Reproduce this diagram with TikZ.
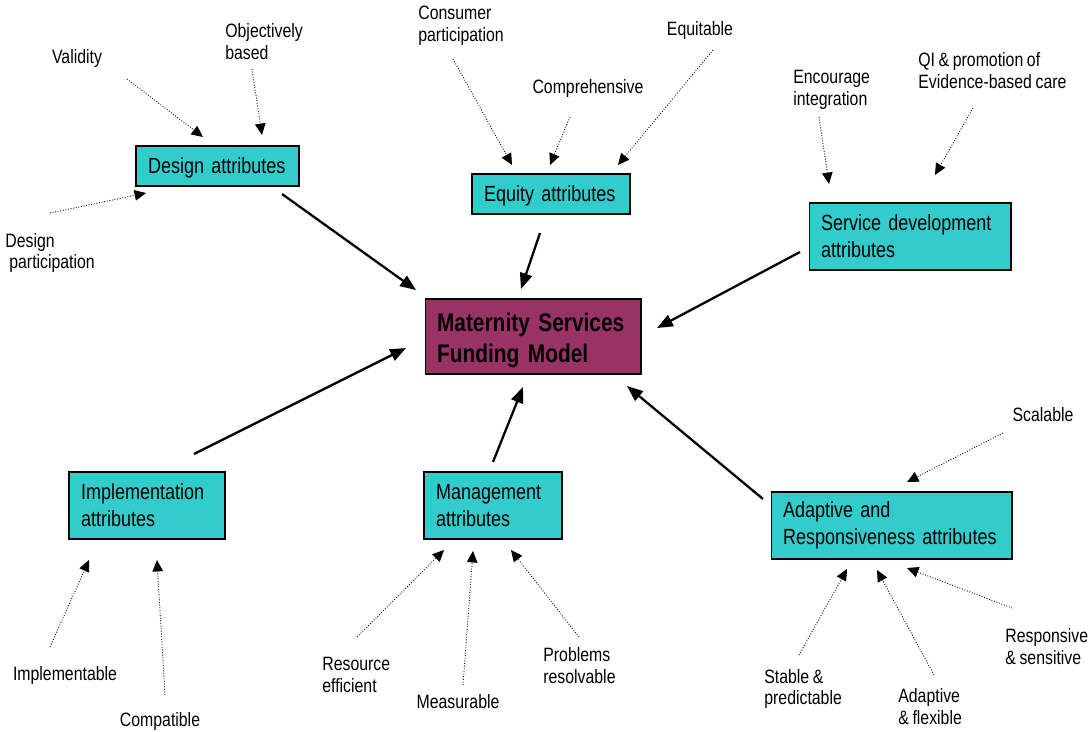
\documentclass[tikz,border=0pt]{standalone}
\usepackage{fontspec}
\setmainfont{Liberation Sans}[FakeStretch=0.82, WordSpace=0.82]
\usetikzlibrary{arrows.meta}
\definecolor{attrcyan}{RGB}{51,204,204}
\definecolor{modelplum}{RGB}{153,51,102}

\begin{document}
\begin{tikzpicture}[x=0.02cm, y=-0.02cm,
	attr/.style={draw, fill=attrcyan, line width=0.6pt, inner xsep=0.24cm, inner ysep=0pt, align=left, font=\fontsize{12.5}{15.4}\selectfont},
	lbl/.style={inner sep=0pt, align=left, font=\fontsize{11}{12.5}\selectfont},
	feed/.style={-{Triangle[length=6.5pt,width=6pt]}, densely dotted, line width=0.5pt},
	push/.style={-{Triangle[length=9pt,width=7pt]}, line width=1.3pt}]
	\useasboundingbox (0, 0) rectangle (1088, 731);
	% boxes
	\node[draw, fill=modelplum, line width=0.6pt, inner xsep=0.24cm, inner ysep=0pt, text depth=16pt, align=left, text width=3.84cm, minimum height=1.5cm, font=\fontsize{14.5}{17.5}\selectfont\bfseries] (model) at (533, 336.5) {Maternity Services\\Funding Model};
	\node[attr, text depth=0pt, text width=2.78cm, minimum height=0.8cm] (design) at (217.5, 166) {Design attributes};
	\node[attr, text depth=0pt, text width=2.68cm, minimum height=0.8cm] (equity) at (551, 194) {Equity attributes};
	\node[attr, text width=3.56cm, minimum height=1.34cm] (service) at (910, 236.5) {Service development\\attributes};
	\node[attr, text width=2.64cm, minimum height=1.34cm] (implem) at (147, 505.5) {Implementation\\attributes};
	\node[attr, text width=2.28cm, minimum height=1.34cm] (manage) at (493, 505.5) {Management\\attributes};
	\node[attr, text width=4.34cm, minimum height=1.34cm] (adapt) at (891.5, 525.5) {Adaptive and\\Responsiveness attributes};
	% labels
	\node[lbl] (validity) at (77, 58) {Validity};
	\node[lbl, anchor=west] (objective) at (225, 42) {Objectively\\based};
	\node[lbl, anchor=west] (designpart) at (5, 253) {Design\\\hspace*{0.08cm}participation};
	\node[lbl, anchor=west] (consumer) at (418, 26) {Consumer\\participation};
	\node[lbl] (comprehensive) at (588, 88) {Comprehensive};
	\node[lbl] (equitable) at (700, 30) {Equitable};
	\node[lbl, anchor=west] (integration) at (793, 90) {Encourage\\integration};
	\node[lbl, anchor=west] (qi) at (918, 71) {QI \& promotion of\\Evidence-based care};
	\node[lbl] (scalable) at (1043, 415) {Scalable};
	\node[lbl, anchor=west] (responsive) at (1005, 647) {Responsive\\\& sensitive};
	\node[lbl, anchor=west] (flexible) at (898, 707) {Adaptive\\\& flexible};
	\node[lbl, anchor=west] (stable) at (764, 689) {Stable \&\\predictable};
	\node[lbl, anchor=west] (resource) at (322, 675) {Resource\\efficient};
	\node[lbl] (measurable) at (458, 702) {Measurable};
	\node[lbl, anchor=west] (problems) at (543, 666) {Problems\\resolvable};
	\node[lbl] (implementable) at (65, 675) {Implementable};
	\node[lbl] (compatible) at (160, 721) {Compatible};
	% thick arrows into the model
	\coordinate (design-out) at (282, 194);
	\coordinate (design-in) at (416, 290);
	\coordinate (equity-out) at (540, 233);
	\coordinate (equity-in) at (521, 289);
	\coordinate (service-out) at (800, 252);
	\coordinate (service-in) at (657, 328);
	\coordinate (implem-out) at (194, 454);
	\coordinate (implem-in) at (406, 348);
	\coordinate (manage-out) at (493, 462);
	\coordinate (manage-in) at (523, 387);
	\coordinate (adapt-out) at (763, 499);
	\coordinate (adapt-in) at (627, 386);
	\draw[push] (design-out) -- (design-in);
	\draw[push] (equity-out) -- (equity-in);
	\draw[push] (service-out) -- (service-in);
	\draw[push] (implem-out) -- (implem-in);
	\draw[push] (manage-out) -- (manage-in);
	\draw[push] (adapt-out) -- (adapt-in);
	% dotted arrows into the boxes
	\coordinate (validity-s) at (127, 79);
	\coordinate (validity-t) at (203, 137);
	\coordinate (objective-s) at (252, 69);
	\coordinate (objective-t) at (262, 135);
	\coordinate (designpart-s) at (50, 213);
	\coordinate (designpart-t) at (146, 193);
	\coordinate (consumer-s) at (453, 59);
	\coordinate (consumer-t) at (512, 165);
	\coordinate (comprehensive-s) at (570, 117);
	\coordinate (comprehensive-t) at (550, 165);
	\coordinate (equitable-s) at (713, 50);
	\coordinate (equitable-t) at (618, 165);
	\coordinate (integration-s) at (819, 117);
	\coordinate (integration-t) at (829, 184);
	\coordinate (qi-s) at (973, 108);
	\coordinate (qi-t) at (935, 175);
	\coordinate (scalable-s) at (1003, 433);
	\coordinate (scalable-t) at (907, 482);
	\coordinate (stable-s) at (799, 655);
	\coordinate (stable-t) at (847, 569);
	\coordinate (flexible-s) at (934, 675);
	\coordinate (flexible-t) at (877, 570);
	\coordinate (responsive-s) at (1012, 608);
	\coordinate (responsive-t) at (907, 568);
	\coordinate (implementable-s) at (50, 647);
	\coordinate (implementable-t) at (89, 560);
	\coordinate (compatible-s) at (165, 695);
	\coordinate (compatible-t) at (157, 560);
	\coordinate (resource-s) at (357, 637);
	\coordinate (resource-t) at (444, 550);
	\coordinate (measurable-s) at (463, 685);
	\coordinate (measurable-t) at (473, 551);
	\coordinate (problems-s) at (579, 637);
	\coordinate (problems-t) at (511, 550);
	\draw[feed] (validity-s) -- (validity-t);
	\draw[feed] (objective-s) -- (objective-t);
	\draw[feed] (designpart-s) -- (designpart-t);
	\draw[feed] (consumer-s) -- (consumer-t);
	\draw[feed] (comprehensive-s) -- (comprehensive-t);
	\draw[feed] (equitable-s) -- (equitable-t);
	\draw[feed] (integration-s) -- (integration-t);
	\draw[feed] (qi-s) -- (qi-t);
	\draw[feed] (scalable-s) -- (scalable-t);
	\draw[feed] (stable-s) -- (stable-t);
	\draw[feed] (flexible-s) -- (flexible-t);
	\draw[feed] (responsive-s) -- (responsive-t);
	\draw[feed] (implementable-s) -- (implementable-t);
	\draw[feed] (compatible-s) -- (compatible-t);
	\draw[feed] (resource-s) -- (resource-t);
	\draw[feed] (measurable-s) -- (measurable-t);
	\draw[feed] (problems-s) -- (problems-t);
\end{tikzpicture}
\end{document}
